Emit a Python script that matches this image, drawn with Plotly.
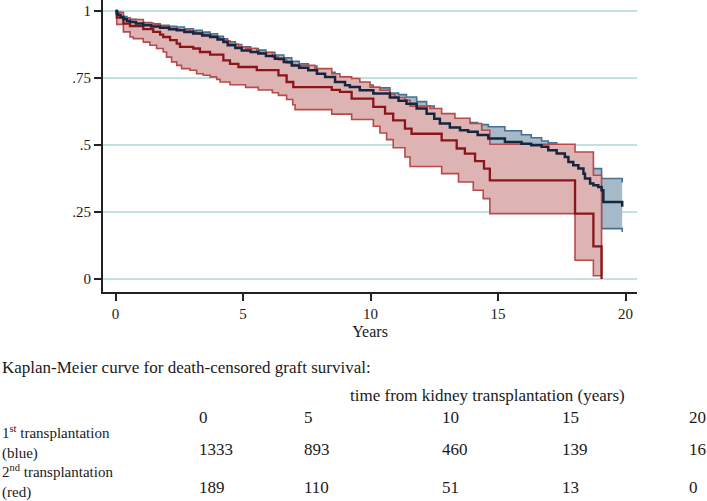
import plotly.graph_objects as go

# ---------------- data ----------------
# 1st transplantation (blue): time (years), KM estimate, upper CI, lower CI
blue_t = [0, 0.05, 0.1, 0.2, 0.31, 0.45, 0.57, 0.8, 1.09, 1.4, 1.75, 2.1, 2.4, 2.7, 3.05, 3.4,
          3.71, 4.0, 4.23, 4.4, 4.7, 4.95, 5.3, 5.6, 5.9, 6.25, 6.6, 6.91, 7.2, 7.56, 7.9, 8.22,
          8.61, 9.0, 9.19, 9.58, 10.11, 10.76, 11.1, 11.41, 11.81, 12.2, 12.5, 12.72, 13.11,
          13.51, 13.83, 14.2, 14.62, 15.27, 15.92, 16.3, 16.71, 16.97, 17.3, 17.62, 17.76,
          17.95, 18.15, 18.35, 18.41, 18.61, 18.74, 18.93, 19.06, 19.13, 19.87]
blue_km = [1, .99, .985, .978, .969, .963, .959, .953, .947, .942, .937, .932, .928, .922, .916,
           .909, .903, .894, .884, .872, .862, .853, .847, .841, .832, .822, .810, .797, .788,
           .779, .766, .754, .735, .723, .716, .704, .692, .677, .665, .654, .636, .617, .598,
           .580, .565, .555, .549, .537, .524, .511, .505, .499, .493, .480, .468, .455, .437,
           .424, .412, .393, .375, .356, .350, .343, .331, .287, .270]
blue_hi = [1, 1.0, .995, .988, .979, .973, .969, .963, .957, .952, .947, .943, .940, .934, .928,
           .921, .915, .906, .896, .885, .875, .866, .860, .854, .846, .836, .825, .812, .803,
           .795, .783, .771, .753, .742, .735, .724, .713, .694, .688, .679, .662, .645, .627,
           .610, .596, .588, .584, .576, .568, .553, .538, .527, .515, .508, .500, .490, .478,
           .468, .458, .440, .430, .420, .412, .412, .375, .375, .360]
blue_lo = [1, .98, .975, .968, .959, .953, .949, .943, .937, .931, .926, .921, .916, .910, .904,
           .897, .891, .882, .872, .859, .849, .840, .834, .828, .818, .808, .795, .782, .773,
           .763, .749, .737, .717, .704, .697, .684, .671, .656, .642, .629, .610, .589, .569,
           .550, .534, .522, .514, .498, .483, .474, .473, .471, .468, .452, .436, .420, .396,
           .380, .366, .346, .320, .292, .288, .275, .188, .188, .175]

# 2nd transplantation (red): time (years), KM estimate, lower CI, upper CI
red_t = [0, 0.05, 0.31, 0.57, 0.70, 1.09, 1.35, 1.48, 1.61, 1.75, 1.87, 2.00, 2.14, 2.20, 2.40,
         2.53, 2.59, 2.92, 3.05, 3.18, 3.31, 3.44, 3.71, 3.97, 4.10, 4.23, 4.49, 4.82, 5.10,
         5.54, 5.60, 6.15, 6.39, 6.71, 6.95, 6.97, 7.04, 7.82, 8.48, 8.80, 9.26, 9.58, 9.98,
         10.11, 10.37, 10.57, 10.63, 10.76, 10.89, 10.96, 11.35, 11.55, 11.61, 12.33, 12.79,
         13.31, 13.38, 13.45, 13.70, 13.90, 14.03, 14.10, 14.36, 14.42, 14.45, 14.68, 18.02,
         18.74, 19.06]
red_km = [1, .975, .953, .944, .944, .932, .932, .922, .922, .912, .903, .903, .891, .891, .878,
          .866, .866, .866, .860, .860, .847, .847, .837, .837, .837, .816, .803, .791, .791,
          .779, .779, .779, .760, .735, .735, .716, .716, .716, .706, .698, .673, .673, .673,
          .642, .642, .617, .617, .617, .592, .592, .561, .561, .542, .542, .517, .517, .487,
          .487, .468, .468, .468, .440, .440, .440, .412, .368, .244, .122, 0]
red_lo = [1, .950, .922, .903, .897, .884, .872, .872, .860, .860, .847, .828, .828, .810, .797,
          .797, .785, .779, .779, .766, .766, .760, .754, .745, .735, .735, .725, .725, .715,
          .715, .705, .695, .685, .670, .650, .650, .632, .632, .615, .615, .595, .595, .595,
          .570, .545, .545, .520, .520, .490, .490, .455, .420, .420, .420, .393, .393, .393,
          .362, .362, .362, .331, .331, .331, .300, .300, .244, .070, .012, .012]
red_hi = [1, .995, .975, .968, .968, .955, .955, .950, .950, .945, .940, .940, .935, .935, .932,
          .929, .929, .925, .922, .920, .915, .913, .907, .900, .897, .889, .877, .866, .860,
          .847, .845, .828, .818, .806, .800, .800, .797, .785, .766, .754, .748, .735, .716,
          .716, .704, .704, .704, .689, .689, .677, .667, .645, .645, .636, .617, .600, .600,
          .600, .600, .580, .580, .580, .555, .555, .555, .503, .474, .387, .012]

# axis ticks and labels
y_ticks = [0, 0.25, 0.5, 0.75, 1]
y_tick_labels = ["0", ".25", ".5", ".75", "1"]
x_ticks = [0, 5, 10, 15, 20]

# numbers at risk table
risk_years = ["0", "5", "10", "15", "20"]
risk_first = ["1333", "893", "460", "139", "16"]
risk_second = ["189", "110", "51", "13", "0"]
row_labels = ["1<sup>st</sup> transplantation", "(blue)", "2<sup>nd</sup> transplantation", "(red)"]

# ---------------- styles ----------------
NAVY = "#16263f"
BLUE_EDGE = "#47708f"
BLUE_FILL = "#a6b9c9"
RED_KM = "#8a161b"
RED_EDGE = "#b84a4c"
RED_FILL = "#deb3b3"
GRID = "#c2e1e1"
SERIF = "Liberation Serif, Times New Roman, serif"
TXT = 17

fig = go.Figure()

# blue confidence band
fig.add_trace(go.Scatter(x=blue_t, y=blue_lo, mode="lines", line=dict(color=BLUE_EDGE, width=1.6, shape="hv"),
                         hoverinfo="skip", showlegend=False))
fig.add_trace(go.Scatter(x=blue_t, y=blue_hi, mode="lines", line=dict(color=BLUE_EDGE, width=1.6, shape="hv"),
                         fill="tonexty", fillcolor=BLUE_FILL, hoverinfo="skip", showlegend=False))
# red confidence band
fig.add_trace(go.Scatter(x=red_t, y=red_lo, mode="lines", line=dict(color=RED_EDGE, width=1.6, shape="hv"),
                         hoverinfo="skip", showlegend=False))
fig.add_trace(go.Scatter(x=red_t, y=red_hi, mode="lines", line=dict(color=RED_EDGE, width=1.6, shape="hv"),
                         fill="tonexty", fillcolor=RED_FILL, hoverinfo="skip", showlegend=False))
# KM curves
fig.add_trace(go.Scatter(x=red_t, y=red_km, mode="lines", line=dict(color=RED_KM, width=2.3, shape="hv"),
                         showlegend=False))
fig.add_trace(go.Scatter(x=blue_t, y=blue_km, mode="lines", line=dict(color=NAVY, width=2.5, shape="hv"),
                         showlegend=False))

W, H = 707, 501
L, R, T, B = 103, 70, 0, 209
PW, PH = W - L - R, H - T - B


def px(xp):
    return (xp - L) / PW


def py(yp):
    return (H - B - yp) / PH


annotations = []


def add_text(text, xp, yp, size=TXT, yanchor="middle"):
    annotations.append(dict(text=text, x=px(xp), y=py(yp), xref="paper", yref="paper",
                            xanchor="left", yanchor=yanchor, align="left", showarrow=False,
                            font=dict(family=SERIF, size=size, color="#1a1a1a")))


add_text("Kaplan-Meier curve for death-censored graft survival:", 0, 367)
add_text("time from kidney transplantation (years)", 348, 395)
col_x = [197, 302, 440, 560, 687]
for cx, lab in zip(col_x, risk_years):
    add_text(lab, cx, 417)
for cx, lab in zip(col_x, risk_first):
    add_text(lab, cx, 449)
for cx, lab in zip(col_x, risk_second):
    add_text(lab, cx, 487)
# row labels as one block of four lines
add_text("<br>".join(row_labels), 0, 462, size=15)

fig.update_layout(
    width=W, height=H,
    margin=dict(l=L, r=R, t=T, b=B, pad=0),
    paper_bgcolor="white", plot_bgcolor="white",
    font=dict(family=SERIF, size=15, color="#1a1a1a"),
    annotations=annotations,
    xaxis=dict(range=[-0.49, 20.45], tickmode="array", tickvals=x_ticks,
               showgrid=False, zeroline=False, showline=True, linecolor="#222222", linewidth=1.8,
               ticks="outside", ticklen=7, tickwidth=1.5, tickcolor="#222222",
               tickfont=dict(family=SERIF, size=15),
               title=dict(text="Years", font=dict(family=SERIF, size=16), standoff=5)),
    yaxis=dict(range=[-0.0485, 1.041], tickmode="array", tickvals=y_ticks, ticktext=y_tick_labels,
               showgrid=True, gridcolor=GRID, gridwidth=1.5, zeroline=False,
               showline=True, linecolor="#222222", linewidth=1.8,
               ticks="outside", ticklen=7, tickwidth=1.5, tickcolor="#222222",
               tickfont=dict(family=SERIF, size=15)),
)

fig.write_html("out.html", config={"displayModeBar": False},
               post_script="document.body.style.margin='0px';")
